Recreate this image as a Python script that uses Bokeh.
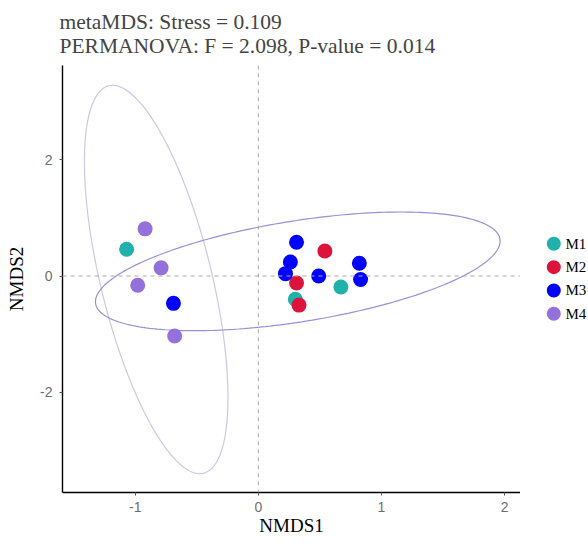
import numpy as np
from bokeh.plotting import figure
from bokeh.layouts import row
from bokeh.models import Span, FixedTicker, Title, Range1d
from bokeh.core.properties import value
from bokeh.embed import file_html
from bokeh.resources import INLINE

# ---- data ----
groups = ["M1", "M2", "M3", "M4"]
colors = ["#20B2AA", "#DC143C", "#0000FF", "#9370DB"]

m1_x = [-1.07, 0.30, 0.67]
m1_y = [0.46, -0.40, -0.19]
m2_x = [0.54, 0.31, 0.33]
m2_y = [0.43, -0.12, -0.50]
m3_x = [-0.69, 0.31, 0.26, 0.22, 0.49, 0.82, 0.83]
m3_y = [-0.47, 0.58, 0.24, 0.04, 0.00, 0.22, -0.06]
m4_x = [-0.92, -0.79, -0.98, -0.68]
m4_y = [0.81, 0.14, -0.16, -1.03]

# confidence ellipses: centre and covariance-like shape matrix
ell_cx = [-0.83, 0.32]
ell_cy = [-0.06, 0.08]
ell_sxx = [0.34, 2.70]
ell_syy = [11.13, 1.04]
ell_sxy = [-1.18, 0.855]
ell_colors = ["#CBC8E6", "#9A8FD9"]

x_ticks = [-1, 0, 1, 2]
y_ticks = [-2, 0, 2]

title_line1 = "metaMDS: Stress = 0.109"
title_line2 = "PERMANOVA: F = 2.098, P-value = 0.014"

serif = "Liberation Serif"
sans = "Liberation Sans"

# ---- layout constants (pixels) ----
BORDER_L, BORDER_T, BORDER_B = 62, 65, 52
FRAME_W, FRAME_H = 458, 427
LEG_W = 68

# ---- main figure ----
p = figure(frame_width=FRAME_W, frame_height=FRAME_H, title=None,
           x_range=Range1d(-1.591, 2.129), y_range=Range1d(-3.720, 3.617),
           output_backend="svg", toolbar_location=None,
           min_border_left=BORDER_L, min_border_right=0,
           min_border_top=BORDER_T, min_border_bottom=BORDER_B)
p.outline_line_color = None
p.xgrid.visible = False
p.ygrid.visible = False
p.background_fill_color = "white"
p.border_fill_color = "white"

for ax, ticks in ((p.xaxis[0], x_ticks), (p.yaxis[0], y_ticks)):
    ax.ticker = FixedTicker(ticks=ticks)
    ax.major_label_overrides = {t: str(t) for t in ticks}
    ax.axis_line_color = "black"
    ax.axis_line_width = 1.4
    ax.major_tick_in = 0
    ax.major_tick_out = 3
    ax.major_tick_line_color = "#555555"
    ax.minor_tick_line_color = None
    ax.major_label_text_font = sans
    ax.major_label_text_font_size = "14px"
    ax.major_label_text_color = "#6E6E6E"
    ax.major_label_standoff = 6
    ax.axis_label_text_font = serif
    ax.axis_label_text_font_size = "19px"
    ax.axis_label_text_font_style = "normal"
    ax.axis_label_text_color = "black"

p.xaxis[0].axis_label = "NMDS1"
p.yaxis[0].axis_label = "NMDS2"
p.xaxis[0].axis_label_standoff = 0
p.yaxis[0].major_label_standoff = 7
p.yaxis[0].axis_label_standoff = 10

# dashed zero lines
p.add_layout(Span(location=0, dimension="height", line_color="#A8A8A8",
                  line_dash="4 4", line_width=1))
p.add_layout(Span(location=0, dimension="width", line_color="#A8A8A8",
                  line_dash="4 4", line_width=1))

# ellipses
t = np.linspace(0, 2 * np.pi, 240)
for cx, cy, sxx, syy, sxy, col in zip(ell_cx, ell_cy, ell_sxx, ell_syy, ell_sxy, ell_colors):
    L = np.linalg.cholesky(np.array([[sxx, sxy], [sxy, syy]]))
    pts = L @ np.vstack([np.cos(t), np.sin(t)])
    p.line(cx + pts[0], cy + pts[1], line_color=col, line_width=1.2)

# points
for gx, gy, col in zip([m1_x, m2_x, m3_x, m4_x], [m1_y, m2_y, m3_y, m4_y], colors):
    p.scatter(gx, gy, size=15, fill_color=col, line_color=None)

# two-line title
p.add_layout(Title(text=title_line1 + "\n" + title_line2, text_font=serif,
                   text_font_size="21.5px", text_font_style="normal",
                   align="left", offset=-3, standoff=15), "above")

# ---- legend panel: frame aligned with the main frame, y in page pixels ----
leg_top, leg_pitch = 243.3, 23.33
lg = figure(frame_width=LEG_W, frame_height=FRAME_H, x_range=Range1d(0, LEG_W),
            y_range=Range1d(BORDER_T + FRAME_H, BORDER_T), x_axis_type=None, y_axis_type=None,
            output_backend="svg", toolbar_location=None, title=None,
            min_border=0, min_border_top=BORDER_T, min_border_bottom=BORDER_B)
lg.outline_line_color = None
lg.xgrid.visible = False
lg.ygrid.visible = False
ly = [leg_top + i * leg_pitch for i in range(len(groups))]
lg.scatter([33.3] * len(groups), ly, size=14, fill_color=colors, line_color=None)
lg.text([45] * len(groups), ly, text=groups, text_font=value(serif),
        text_font_size="15px", text_baseline="middle", text_align="left",
        text_color="black")

layout = row(p, lg, spacing=0)
open("out.html", "w").write(file_html(layout, INLINE))
